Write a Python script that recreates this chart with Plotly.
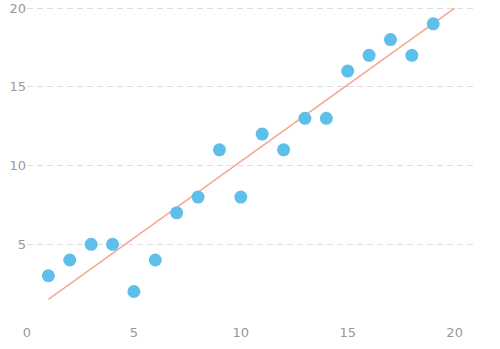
import plotly.graph_objects as go

x_vals = [1, 2, 3, 4, 5, 6, 7, 8, 9, 10, 11, 12, 13, 14, 15, 16, 17, 18, 19]
y_vals = [3, 4, 5, 5, 2, 4, 7, 8, 11, 8, 12, 11, 13, 13, 16, 17, 18, 17, 19]
line_x = [1, 20]
line_y = [1.5, 20]
x_ticks = [0, 5, 10, 15, 20]
y_ticks = [5, 10, 15, 20]

fig = go.Figure()
fig.add_trace(go.Scatter(x=line_x, y=line_y, mode="lines",
                         line=dict(color="#f8a590", width=1.5), hoverinfo="skip",
                         cliponaxis=False))
fig.add_trace(go.Scatter(x=x_vals, y=y_vals, mode="markers",
                         marker=dict(color="#5ec0ea", size=13, line=dict(width=0)),
                         cliponaxis=False))

fig.update_layout(
    width=500, height=349,
    margin=dict(l=27, r=24, t=7, b=26),
    paper_bgcolor="white", plot_bgcolor="white",
    showlegend=False,
    font=dict(family="DejaVu Sans, sans-serif", size=13, color="#999999"),
    xaxis=dict(range=[0, 21], tickvals=x_ticks, showgrid=False, zeroline=False,
               showline=False, ticks="", fixedrange=True, automargin=False),
    yaxis=dict(range=[0, 20.07], tickvals=y_ticks, showgrid=True, gridcolor="#dddddd",
               griddash="6px,4px", gridwidth=1, zeroline=False, showline=False,
               ticks="", fixedrange=True, automargin=False),
)
fig.write_html("out.html")
